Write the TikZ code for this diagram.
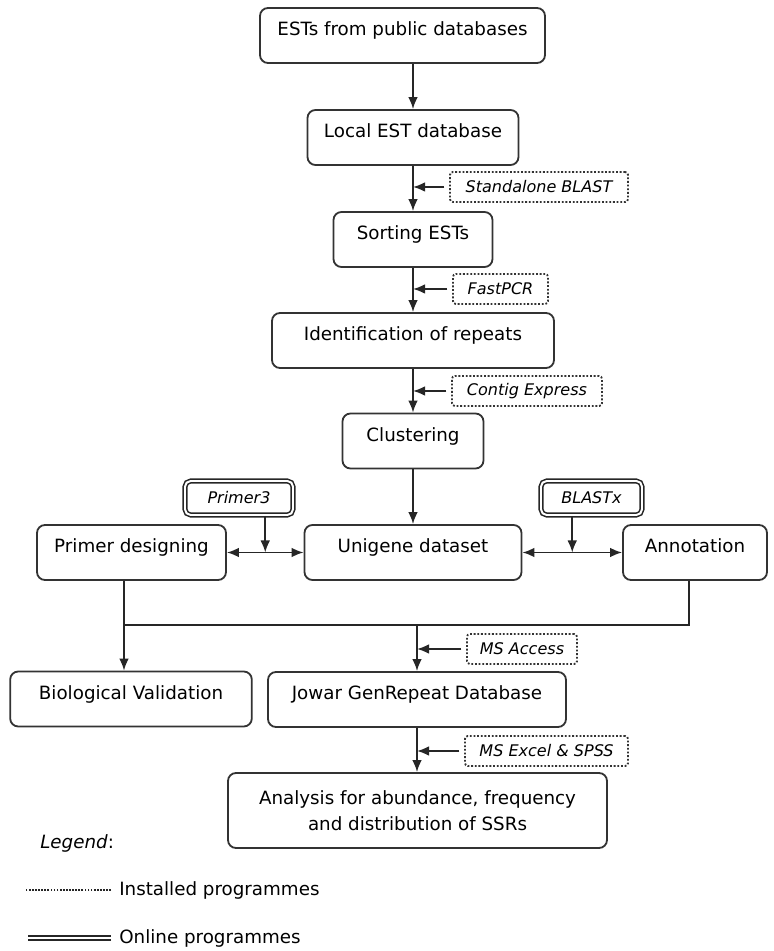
\documentclass[tikz,border=0pt]{standalone}
\usepackage{fontspec}
\setmainfont{DejaVu Sans}
\usetikzlibrary{arrows.meta,calc}

\begin{document}
\begin{tikzpicture}
    % Define styles
    \tikzset{
        stage/.style={draw=black!80, line width=1.3pt, rounded corners=0.2cm, inner ysep=0.1cm, text height=0.6cm, text depth=0.575cm, font=\fontsize{13}{16}\selectfont},
        twoline/.style={draw=black!80, line width=1.3pt, rounded corners=0.2cm, align=center, font=\fontsize{13}{18.5}\selectfont},
        installed/.style={draw=black!80, line width=1.3pt, dash pattern=on 1.3pt off 1.3pt, rounded corners=2pt, minimum height=0.75cm, inner sep=0pt, font=\fontsize{11.4}{13}\selectfont\itshape},
        online/.style={draw=black!85, double, double distance=1.4pt, line width=1.1pt, rounded corners=4pt, minimum height=0.85cm, inner sep=0pt, font=\fontsize{11.4}{13}\selectfont\itshape},
        thickarrow/.style={-{Latex[length=3mm,width=2.4mm]}, line width=1.2pt, draw=black!85},
        twoway/.style={{Latex[length=3mm,width=2.4mm]}-{Latex[length=3mm,width=2.4mm]}, line width=1.2pt, draw=black!85},
        link/.style={line width=1.2pt, draw=black!85},
        legendtext/.style={anchor=west, inner sep=0pt, font=\fontsize{13}{16}\selectfont}
    }
    \useasboundingbox (0,0) rectangle (19.35,23.775);

    % Main pipeline
    \node[stage, minimum width=7.125cm] (src) at (10.0625,22.8875) {ESTs from public databases};
    \node[stage, minimum width=5.275cm] (localdb) at (10.325,20.3375) {Local EST database};
    \node[stage, minimum width=3.975cm] (sorting) at (10.325,17.7875) {Sorting ESTs};
    \node[stage, minimum width=7.05cm] (repeats) at (10.325,15.2625) {Identification of repeats};
    \node[stage, minimum width=3.525cm] (cluster) at (10.325,12.75) {Clustering};
    \node[stage, minimum width=5.425cm] (unigene) at (10.325,9.9625) {Unigene dataset};

    % Side branches
    \node[stage, minimum width=4.725cm] (primer) at (3.2875,9.9625) {Primer designing};
    \node[stage, minimum width=3.6cm] (annot) at (17.375,9.9625) {Annotation};

    % Lower part
    \node[stage, minimum width=6.04cm] (bioval) at (3.275,6.3) {Biological Validation};
    \node[stage, minimum width=7.45cm] (jowar) at (10.425,6.2875) {Jowar GenRepeat Database};
    \node[twoline, minimum width=9.475cm, minimum height=1.875cm] (analysis) at (10.4375,3.5125) {Analysis for abundance, frequency\\and distribution of SSRs};

    % Installed programmes
    \node[installed, minimum width=4.45cm] (blast) at (13.475,19.1) {Standalone BLAST};
    \node[installed, minimum width=2.375cm] (fastpcr) at (12.5125,16.55) {FastPCR};
    \node[installed, minimum width=3.75cm] (contig) at (13.175,14.0) {Contig Express};
    \node[installed, minimum width=2.75cm] (msaccess) at (13.05,7.55) {MS Access};
    \node[installed, minimum width=4.075cm] (msexcel) at (13.6625,5.0) {MS Excel \& SPSS};

    % Online programmes
    \node[online, minimum width=2.7cm] (primer3) at (5.975,11.325) {Primer3};
    \node[online, minimum width=2.525cm] (blastx) at (14.7875,11.325) {BLASTx};

    % Arrows down the pipeline
    \draw[thickarrow] (src.south -| localdb.north) -- (localdb.north);
    \draw[thickarrow] (localdb) -- (sorting);
    \draw[thickarrow] (sorting) -- (repeats);
    \draw[thickarrow] (repeats) -- (cluster);
    \draw[thickarrow] (cluster) -- (unigene);

    % Arrows from programmes
    \draw[thickarrow] ([xshift=-0.12cm]blast.west) -- (blast.west -| localdb.south);
    \draw[thickarrow] ([xshift=-0.12cm]fastpcr.west) -- (fastpcr.west -| sorting.south);
    \draw[thickarrow] ([xshift=-0.12cm]contig.west) -- (contig.west -| repeats.south);

    % Two-way arrows
    \draw[twoway] (primer.east) -- (unigene.west);
    \draw[twoway] (unigene.east) -- (annot.west);
    \coordinate (pj) at ($(primer.east)!0.5!(unigene.west)$);
    \coordinate (bj) at ($(unigene.east)!0.5!(annot.west)$);
    \draw[thickarrow] (primer3.south -| pj) -- (pj);
    \draw[thickarrow] (blastx.south -| bj) -- (bj);

    % Merge line
    \coordinate (mleft) at (3.1,8.15);
    \coordinate (mright) at (17.225,8.15);
    \draw[link] (primer.south -| mleft) -- (mleft) -- (mright) -- (annot.south -| mright);
    \draw[thickarrow] (mleft) -- (bioval.north -| mleft);
    \draw[thickarrow] (jowar.north |- mleft) -- (jowar.north);
    \draw[thickarrow] ([xshift=-0.12cm]msaccess.west) -- (msaccess.west -| jowar.north);
    \draw[thickarrow] (jowar.south) -- (jowar.south |- analysis.north);
    \draw[thickarrow] ([xshift=-0.12cm]msexcel.west) -- (msexcel.west -| jowar.south);

    % Legend
    \node[legendtext] (legend) at (1.0,2.7) {\textit{Legend}:};
    \node[legendtext] (inst) at (2.975,1.525) {Installed programmes};
    \node[legendtext] (onl) at (2.975,0.325) {Online programmes};
    \draw[line width=1.2pt, densely dotted, black!85] ([xshift=-0.2cm]inst.west) -- ++(-2.125,0);
    \draw[double, double distance=1.4pt, line width=1.1pt, black!85] ([xshift=-0.2cm]onl.west) -- ++(-2.075,0);

\end{tikzpicture}
\end{document}
